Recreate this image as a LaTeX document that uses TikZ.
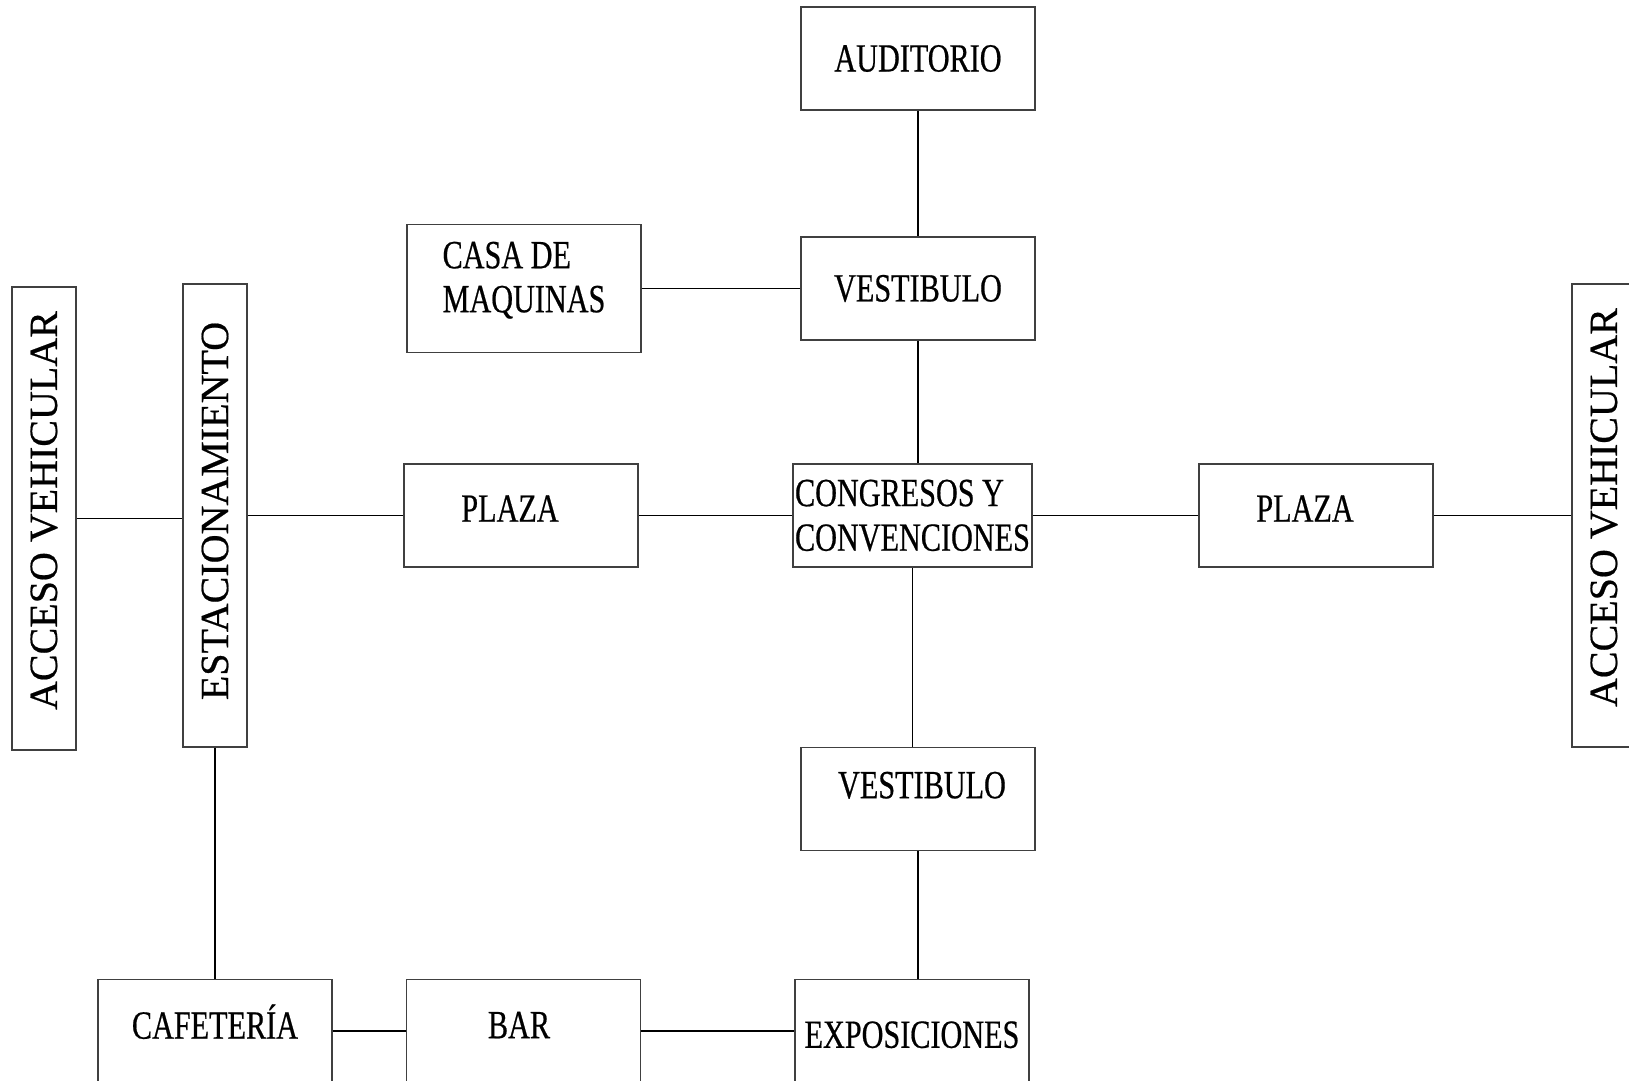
\documentclass[tikz,border=0pt]{standalone}
\usepackage{graphicx}
\usepackage{fontspec}
\setmainfont[FakeStretch=0.755, FakeBold=0.5]{Liberation Serif}
\newfontfamily\upfont[FakeBold=0.5]{Liberation Serif}
\usepackage{tikz}

\tikzset{
	box/.style={draw=black!75, line width=0.7pt, minimum width=117pt, minimum height=51.5pt, inner sep=0pt, font=\fontsize{20}{22}\selectfont},
	tallbox/.style={draw=black!75, line width=0.7pt, minimum width=32pt, minimum height=231.5pt, inner sep=0pt, font=\upfont\fontsize{20}{24}\selectfont},
	link/.style={draw=black, line width=0.7pt},
}

\begin{document}
\begin{tikzpicture}[x=0.5pt, y=-0.5pt]
	\useasboundingbox (0, 0) rectangle (1629, 1081);
	\clip (0, 0) rectangle (1629, 1081);

	% access roads and parking
	\node[tallbox] (accL) at (44, 518.5) {\rotatebox{90}{\hspace*{8pt}ACCESO VEHICULAR}};
	\node[tallbox] (est) at (215, 515.5) {\rotatebox{90}{\hspace*{4.5pt}ESTACIONAMIENTO}};
	\node[tallbox] (accR) at (1604, 515.5) {\rotatebox{90}{\hspace*{8pt}ACCESO VEHICULAR}};

	% central axis
	\node[box] (aud) at (918, 58.5) {AUDITORIO};
	\node[box] (vest1) at (918, 288.5) {VESTIBULO};
	\node[box, minimum height=64pt, align=left, text depth=11.5pt, font=\fontsize{20}{22}\selectfont] (casa) at (524, 288.5) {CASA DE\\MAQUINAS};
	\node[box, minimum width=119.5pt, align=left, font=\fontsize{20}{22.3}\selectfont] (cong) at (912.5, 515.5) {CONGRESOS Y\\CONVENCIONES};
	\node[box, text depth=7pt] (plaza1) at (521, 515.5) {PLAZA\hspace*{11pt}};
	\node[box, text depth=7pt] (plaza2) at (1316, 515.5) {PLAZA\hspace*{11pt}};
	\node[box, text depth=14pt] (vest2) at (918, 799) {\hspace*{4pt}VESTIBULO};

	% bottom row
	\node[box, text depth=9.5pt] (cafe) at (215, 1031) {CAFETER\'IA};
	\node[box, text depth=6pt] (bar) at (523.5, 1031) {BAR\hspace*{4.5pt}};
	\node[box, text height=17pt] (expo) at (912, 1031) {EXPOSICIONES};

	\path[link] (accL) -- (accL -| est.west);
	\path[link] (est) -- (plaza1);
	\path[link] (plaza1) -- (cong);
	\path[link] (cong) -- (plaza2);
	\path[link] (plaza2) -- (accR);

	\path[link] (aud) -- (vest1);
	\path[link] (casa) -- (vest1);
	\path[link] (vest1) -- (vest1 |- cong.north);
	\path[link] (cong) -- (cong |- vest2.north);
	\path[link] (vest2) -- (vest2 |- expo.north);

	\path[link] (est) -- (cafe);
	\path[link] (cafe) -- (bar);
	\path[link] (bar) -- (expo);

\end{tikzpicture}
\end{document}
